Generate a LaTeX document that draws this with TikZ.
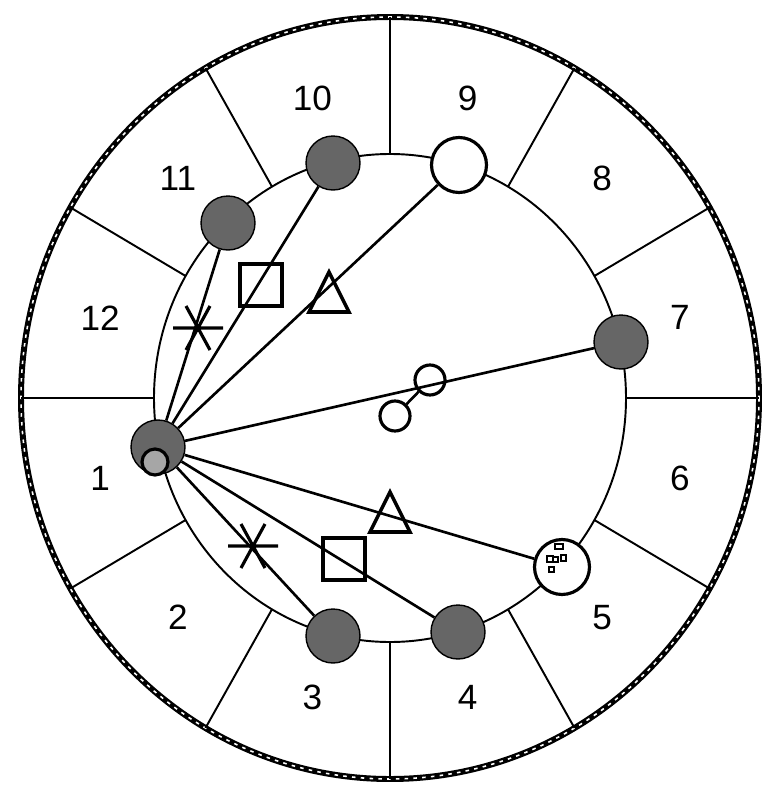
\documentclass[tikz,border=0pt]{standalone}
\usepackage{fontspec}
\setmainfont{Liberation Sans}

\tikzset{
  planet/.style={circle, draw=black, line width=0.8pt, fill=black!60, inner sep=0pt, minimum size=1.08cm},
  hollow/.style={circle, draw=black, line width=1.8pt, fill=white, inner sep=0pt, minimum size=1.1cm},
  ring/.style={circle, draw=black, line width=1.8pt, inner sep=0pt, minimum size=0.6cm},
  aspect/.style={line width=1.5pt},
  cusp/.style={line width=1.1pt},
  quadrat/.style={rectangle, draw=black, line width=2pt, inner sep=0pt, minimum size=0.84cm},
  house/.style={font=\fontsize{20}{24}\selectfont},
  trine/.pic={\draw[line width=2pt, line join=miter] (0,-21) -- (20,19) -- (-20,19) -- cycle;},
  sextile/.pic={\draw[line width=1.8pt] (-25,0) -- (25,0) (-12,-22) -- (12,22) (12,-22) -- (-12,22);},
}

\begin{document}
\begin{tikzpicture}[x=0.02cm, y=-0.02cm]
    \useasboundingbox (0,0) rectangle (773,791);
    % wheel
    \draw[line width=3.4pt] (390,398) ellipse [x radius=369, y radius=381];
    \draw[white, line width=0.9pt, dash pattern=on 2pt off 3pt] (390,398) ellipse [x radius=369, y radius=381];
    \draw[cusp] (390,398) ellipse [x radius=236, y radius=244];
    \foreach \a in {0,30,...,330}
        \draw[cusp] ({390+236*cos(\a)},{398-244*sin(\a)}) -- ({390+369*cos(\a)},{398-381*sin(\a)});
    \foreach \i in {1,...,12}
        \node[house] (h\i) at ({390+300*cos(165+30*\i)},{398-310*sin(165+30*\i)}) {\i};
    % planets
    \node[planet] (pA) at (333,163) {};
    \node[planet] (pB) at (228,223) {};
    \node[planet] (pC) at (158,447) {};
    \node[hollow] (pD) at (459,165) {};
    \node[planet] (pE) at (621,342) {};
    \node[planet] (pF) at (333,636) {};
    \node[planet] (pG) at (458,632) {};
    \node[hollow] (pH) at (562,567) {};
    \node[ring] (m1) at (430,380) {};
    \node[ring] (m2) at (395,416) {};
    \draw[aspect] (m2) -- (m1);
    % aspects
    \foreach \t in {pA,pB,pD,pE,pF,pG,pH}
        \draw[aspect] (pC) -- (\t);
    \node[ring, fill=black!35, minimum size=0.52cm] (pCs) at (155,462) {};
    \pic at (198,328) {sextile};
    \node[quadrat] (q1) at (261,285) {};
    \pic at (329,293) {trine};
    \pic at (390,513) {trine};
    \node[quadrat] (q2) at (344,559) {};
    \pic at (253,546) {sextile};
    % marks in the open circle
    \draw[line width=0.6pt] (555,544) rectangle (563,549) (547,556) rectangle (553,562)
        (553,557) rectangle (558,562) (561,555) rectangle (566,561) (549,567) rectangle (554,572);
\end{tikzpicture}
\end{document}
